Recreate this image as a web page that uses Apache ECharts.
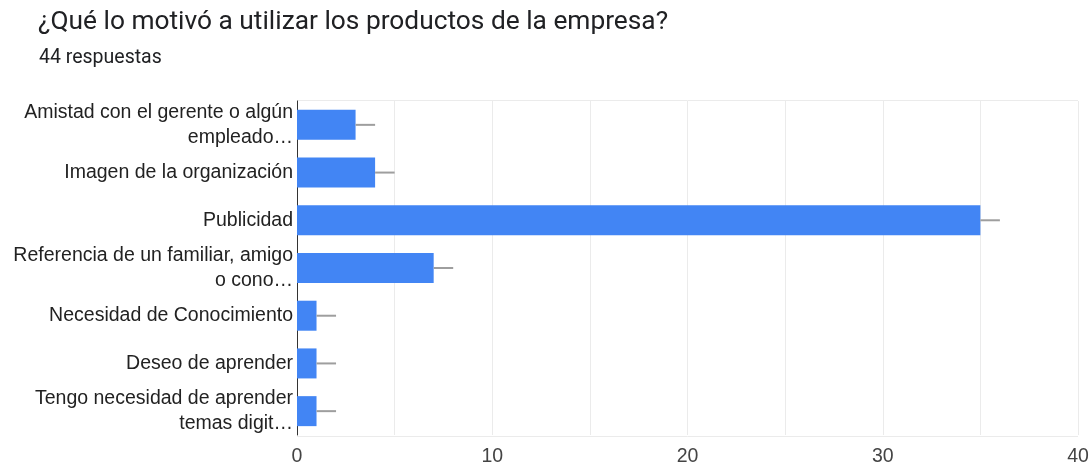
<!DOCTYPE html>
<html>
<head>
<meta charset="utf-8">
<script src="https://cdn.jsdelivr.net/npm/echarts@6/dist/echarts.min.js"></script>
<style>
html,body{margin:0;padding:0;background:#fff;}
#c{width:1092px;height:467px;}
</style>
</head>
<body>
<div id="c"></div>
<script>
const titleText = "¿Qué lo motivó a utilizar los productos de la empresa?";
const subtitleText = "44 respuestas";
const categories = [
  "Amistad con el gerente o algún\nempleado…",
  "Imagen de la organización",
  "Publicidad",
  "Referencia de un familiar, amigo\no cono…",
  "Necesidad de Conocimiento",
  "Deseo de aprender",
  "Tengo necesidad de aprender\ntemas digit…"
];
const values = [3, 4, 35, 7, 1, 1, 1];
const errors = [1, 1, 1, 1, 1, 1, 1];
const xTicks = [0, 10, 20, 30, 40];

const chart = echarts.init(document.getElementById('c'), null, {renderer: 'canvas'});
chart.setOption({
  animation: false,
  backgroundColor: '#fff',
  title: [
    {text: titleText, left: 33, top: 4, textStyle: {fontFamily: 'Roboto', fontSize: 26.3, fontWeight: 'normal', color: '#202124'}},
    {text: subtitleText, left: 34, top: 43, textStyle: {fontFamily: 'Roboto', fontSize: 19.5, fontWeight: 'normal', color: '#202124'}}
  ],
  grid: {left: 297, right: 14, top: 101, bottom: 31, containLabel: false},
  xAxis: {
    type: 'value', min: 0, max: 40, interval: 5,
    axisLine: {show: false}, axisTick: {show: false},
    axisLabel: {
      fontFamily: 'Liberation Sans', fontSize: 19.5, color: '#444', margin: 12,
      formatter: v => xTicks.includes(v) ? String(v) : ''
    },
    splitLine: {show: true, lineStyle: {color: '#ebebeb', width: 1}}
  },
  yAxis: {
    type: 'category', data: categories, inverse: true,
    axisLine: {show: true, onZero: false, lineStyle: {color: '#333', width: 1}},
    axisTick: {show: false},
    axisLabel: {fontFamily: 'Liberation Sans', fontSize: 19.5, color: '#222', margin: 4, lineHeight: 25, align: 'right', padding: [3, 0, 0, 0]},
    splitLine: {show: false}
  },
  series: [
    {
      type: 'bar', data: values, barWidth: 30,
      itemStyle: {color: '#4285f4'}, z: 2
    },
    {
      type: 'custom', z: 3,
      data: values.map((v, i) => [v, i, errors[i]]),
      encode: {x: 0, y: 1},
      renderItem: function (params, api) {
        const v = api.value(0), i = api.value(1), e = api.value(2);
        const p1 = api.coord([v, i]);
        const p2 = api.coord([v + e, i]);
        return {type: 'line', shape: {x1: p1[0], y1: p1[1], x2: p2[0], y2: p2[1]},
                style: {stroke: '#9e9e9e', lineWidth: 2}};
      }
    }
  ],
  graphic: [
    {type: 'line', shape: {x1: 297, y1: 100.5, x2: 1078, y2: 100.5}, style: {stroke: '#ebebeb', lineWidth: 1}, z: 0},
    {type: 'line', shape: {x1: 297, y1: 436.5, x2: 1078, y2: 436.5}, style: {stroke: '#ebebeb', lineWidth: 1}, z: 0}
  ]
});
</script>
</body>
</html>
